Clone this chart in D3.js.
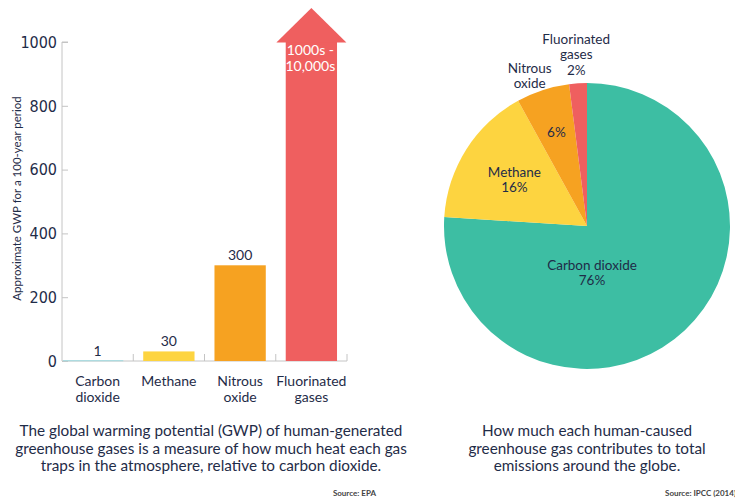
<!DOCTYPE html>
<html>
<head>
<meta charset="utf-8">
<script src="https://cdn.jsdelivr.net/npm/d3@7"></script>
<style>
  body { margin: 0; background: #fff; }
  svg { display: block; font-family: Lato, "Open Sans", sans-serif; }
</style>
</head>
<body>
<div id="chart"></div>
<script>
"use strict"

// Bar chart data (GWP, EPA)
const gases = ["Carbon dioxide", "Methane", "Nitrous oxide", "Fluorinated gases"];
const gasLabelLines = [["Carbon", "dioxide"], ["Methane"], ["Nitrous", "oxide"], ["Fluorinated", "gases"]];
const gwpValues = [1, 30, 300, 1000];
const gwpLabels = [["1"], ["30"], ["300"], ["1000s -", "10,000s"]];
const yTicks = [0, 200, 400, 600, 800, 1000];
const gasColors = ["#a9dbe0", "#fdd440", "#f6a221", "#ef5f5f"];

// Pie chart data (share of emissions, IPCC 2014)
const shareValues = [76, 16, 6, 2];
const shareLabels = [["Carbon dioxide", "76%"], ["Methane", "16%"], ["6%"], ["Fluorinated", "gases", "2%"]];
const pieColors = ["#3dbea3", "#fdd440", "#f6a221", "#ef5f5f"];

const captionLeft = ["The global warming potential (GWP) of human-generated",
  "greenhouse gases is a measure of how much heat each gas",
  "traps in the atmosphere, relative to carbon dioxide."];
const captionRight = ["How much each human-caused",
  "greenhouse gas contributes to total",
  "emissions around the globe."];

const textColor = "#1f2c48";

window.addEventListener("load", drawChart);

function drawChart() {
  let svg = d3.select("#chart")
    .append("svg")
      .attr("width", 735)
      .attr("height", 500);

  drawBars(svg);
  drawPie(svg);
  drawCaptions(svg);
}

function drawBars(svg) {
  let x = d3.scaleBand()
    .domain(gases)
    .range([62, 347])
    .paddingInner(0.28)
    .paddingOuter(0.14);

  let y = d3.scaleLinear()
    .domain([0, 1000])
    .range([361, 42]);

  // y axis, ticks pointing inward
  let yAxis = svg.append("g")
    .attr("transform", "translate(62,0)")
    .call(d3.axisRight(y).tickValues(yTicks).tickSize(6).tickFormat(""));
  yAxis.select(".domain").attr("stroke", "#c4c4c4").attr("d", `M6,${y(1000)}H0V${y(0)}`);
  yAxis.selectAll(".tick line").attr("stroke", "#c4c4c4");

  svg.append("g")
    .selectAll("text")
    .data(yTicks)
    .join("text")
      .attr("x", 57)
      .attr("y", (d) => y(d))
      .attr("dy", "0.36em")
      .attr("text-anchor", "end")
      .style("font-family", "'Liberation Sans Narrow', 'DejaVu Sans Condensed', sans-serif")
      .style("font-size", "16px")
      .attr("fill", textColor)
      .text((d) => d);

  svg.append("text")
    .attr("transform", `translate(21,${(y(0) + y(1000)) / 2 - 3}) rotate(-90)`)
    .attr("text-anchor", "middle")
    .style("font-size", "11.5px")
    .attr("fill", textColor)
    .text("Approximate GWP for a 100-year period");

  // x axis baseline with separators at band edges
  let half = x.step() * x.paddingInner() / 2;
  let edges = gases.map((d) => x(d) + x.bandwidth() + half);
  svg.append("line")
    .attr("x1", 62).attr("x2", edges[edges.length - 1])
    .attr("y1", y(0)).attr("y2", y(0))
    .attr("stroke", "#c4c4c4");
  svg.append("g")
    .selectAll("line")
    .data(edges)
    .join("line")
      .attr("x1", (d) => d).attr("x2", (d) => d)
      .attr("y1", y(0) - 7).attr("y2", y(0))
      .attr("stroke", "#c4c4c4");

  // bars (the carbon dioxide bar spans the whole band width near the axis)
  svg.append("g")
    .selectAll("rect")
    .data(gases)
    .join("rect")
      .attr("x", (d, i) => i === 0 ? 63 : x(d))
      .attr("width", (d, i) => i === 0 ? x(d) + x.bandwidth() - 63 : x.bandwidth())
      .attr("y", (d, i) => y(gwpValues[i]) - (i === 0 ? 0.6 : 0))
      .attr("height", (d, i) => Math.max(y(0) - y(gwpValues[i]), 1.2))
      .attr("fill", (d, i) => gasColors[i]);

  // arrow head on the fluorinated gases bar
  let last = gases[gases.length - 1];
  let cx = x(last) + x.bandwidth() / 2;
  let top = y(gwpValues[gwpValues.length - 1]);
  svg.append("path")
    .attr("d", `M${cx - 35},${top + 0.5}L${cx},${top - 34}L${cx + 35},${top + 0.5}Z`)
    .attr("fill", gasColors[gasColors.length - 1]);

  // value labels
  gases.forEach((g, i) => {
    let lines = gwpLabels[i];
    let inside = i === gases.length - 1;
    let t = svg.append("text")
      .attr("text-anchor", "middle")
      .style("font-size", "14px")
      .attr("fill", inside ? "#fff" : textColor);
    lines.forEach((line, j) => {
      t.append("tspan")
        .attr("x", x(g) + x.bandwidth() / 2 + (inside ? -1 : 0))
        .attr("y", inside ? y(gwpValues[i]) + 13 + j * 16 : y(gwpValues[i]) - 5)
        .text(line);
    });
  });

  // category labels
  gases.forEach((g, i) => {
    let t = svg.append("text")
      .attr("text-anchor", "middle")
      .style("font-size", "14px")
      .attr("fill", textColor);
    gasLabelLines[i].forEach((line, j) => {
      t.append("tspan")
        .attr("x", x(g) + x.bandwidth() / 2)
        .attr("y", 386 + j * 16)
        .text(line);
    });
  });
}

function drawPie(svg) {
  let radius = 143;
  let g = svg.append("g").attr("transform", "translate(587,226)");

  let pie = d3.pie().sort(null);
  let arcs = pie(shareValues);
  let arc = d3.arc().innerRadius(0).outerRadius(radius);

  g.selectAll("path")
    .data(arcs)
    .join("path")
      .attr("d", arc)
      .attr("fill", (d, i) => pieColors[i]);

  // label radius for each slice, picked to match the reference
  let labelRadius = [0, 86, 99, 172];
  arcs.forEach((a, i) => {
    let pos;
    if (i === 0) {
      pos = [5, 47];
    } else {
      let mid = (a.startAngle + a.endAngle) / 2;
      pos = [Math.sin(mid) * labelRadius[i], -Math.cos(mid) * labelRadius[i]];
    }
    addLines(g, shareLabels[i], pos[0], pos[1]);
  });

  // Nitrous oxide name sits outside the pie
  let nitrous = arcs[2];
  let mid = (nitrous.startAngle + nitrous.endAngle) / 2 - 0.05;
  addLines(g, ["Nitrous", "oxide"], Math.sin(mid) * 161, -Math.cos(mid) * 161);
}

function addLines(g, lines, cx, cy) {
  let lh = 15.5;
  let t = g.append("text")
    .attr("text-anchor", "middle")
    .style("font-size", "13.5px")
    .attr("fill", textColor);
  lines.forEach((line, j) => {
    t.append("tspan")
      .attr("x", cx)
      .attr("y", cy + (j - (lines.length - 1) / 2) * lh)
      .attr("dy", "0.35em")
      .text(line);
  });
}

function drawCaptions(svg) {
  let block = (lines, cx) => {
    let t = svg.append("text")
      .attr("text-anchor", "middle")
      .style("font-size", "15.3px")
      .attr("fill", textColor);
    lines.forEach((line, j) => {
      t.append("tspan")
        .attr("x", cx)
        .attr("y", 436 + j * 17.5)
        .text(line);
    });
  };
  block(captionLeft, 211);
  block(captionRight, 587);

  svg.append("text")
    .attr("x", 376).attr("y", 496)
    .attr("text-anchor", "end")
    .style("font-size", "8px")
    .style("font-weight", "bold")
    .attr("fill", "#444")
    .text("Source: EPA");
  svg.append("text")
    .attr("x", 665).attr("y", 496)
    .style("font-size", "8px")
    .style("font-weight", "bold")
    .attr("fill", "#444")
    .text("Source: IPCC (2014)");
}
</script>
</body>
</html>
